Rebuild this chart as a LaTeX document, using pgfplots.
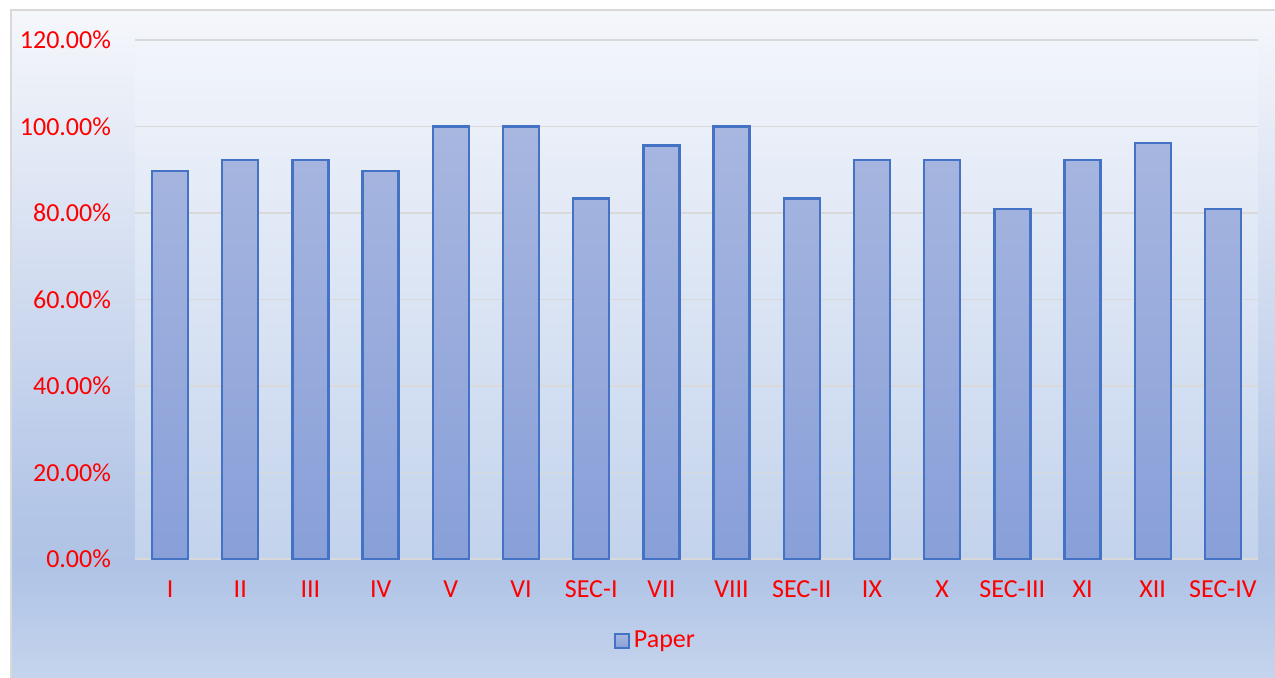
\documentclass[border=0pt]{standalone}
\usepackage{pgfplots}
\pgfplotsset{compat=1.18}
\usepackage{fontspec}
\setmainfont{Carlito}
\definecolor{ctop}{HTML}{F5F7FB}
\definecolor{cmid}{HTML}{B4C6E7}
\definecolor{cdark}{HTML}{AFC3E6}
\definecolor{cbot}{HTML}{C6D5ED}
\definecolor{ptop}{HTML}{F2F5FB}
\definecolor{pbot}{HTML}{C3D3EC}
\definecolor{bartop}{HTML}{A8B7E0}
\definecolor{barbot}{HTML}{889FD8}
\definecolor{barblue}{HTML}{4472C4}
\definecolor{gridgray}{HTML}{D9D9D9}
\definecolor{lblred}{HTML}{FF0000}
\pgfdeclareverticalshading{outerbg}{100bp}{color(0bp)=(cbot); color(25bp)=(cbot); color(33.5bp)=(cdark); color(38bp)=(cmid); color(75bp)=(ctop); color(100bp)=(ctop)}
\begin{document}
\begin{tikzpicture}
\useasboundingbox (0,0) rectangle (637.5pt,338.5pt);
\shade[shading=outerbg, draw=gray!30, line width=1pt] (5.5pt,-2pt) rectangle (640pt,333.5pt);
\begin{axis}[
  at={(67.5pt,59pt)}, anchor=south west,
  scale only axis, width=561.5pt, height=259.5pt,
  ybar, bar width=18pt,
  xmin=-0.5, xmax=15.5, ymin=0, ymax=120,
  xtick={0,...,15},
  xticklabels={I,II,III,IV,V,VI,SEC-I,VII,VIII,SEC-II,IX,X,SEC-III,XI,XII,SEC-IV},
  ytick={0,20,40,60,80,100,120},
  yticklabels={0.00\%,20.00\%,40.00\%,60.00\%,80.00\%,100.00\%,120.00\%},
  ticklabel style={font=\fontsize{13}{15}\selectfont, text=lblred},
  yticklabel style={xshift=-8.5pt},
  xticklabel style={yshift=-7.5pt},
  major tick length=0pt,
  axis x line*=bottom, axis y line*=left,
  y axis line style={draw=none},
  x axis line style={draw=gridgray, line width=1.2pt, -},
  ymajorgrids, grid style={draw=gridgray, line width=0.9pt},
  axis background/.style={shade, top color=ptop, bottom color=pbot},
  legend style={at={(0.4645,-0.158)}, anchor=center, draw=none, fill=none,
    font=\fontsize{13}{15}\selectfont, text=lblred, inner sep=0pt},
  legend image code/.code={\draw[#1, line width=0.8pt] (0pt,-3.5pt) rectangle (7pt,3.5pt);},
]
\addplot[draw=barblue, line width=1.2pt, top color=bartop, bottom color=barbot, bar shift=0pt]
coordinates {(0,89.74) (1,92.31) (2,92.31) (3,89.74) (4,100) (5,100) (6,83.33) (7,95.65) (8,100) (9,83.33) (10,92.31) (11,92.31) (12,80.95) (13,92.31) (14,96.15) (15,80.95)};
\addlegendentry{Paper}
\end{axis}
\end{tikzpicture}
\end{document}
